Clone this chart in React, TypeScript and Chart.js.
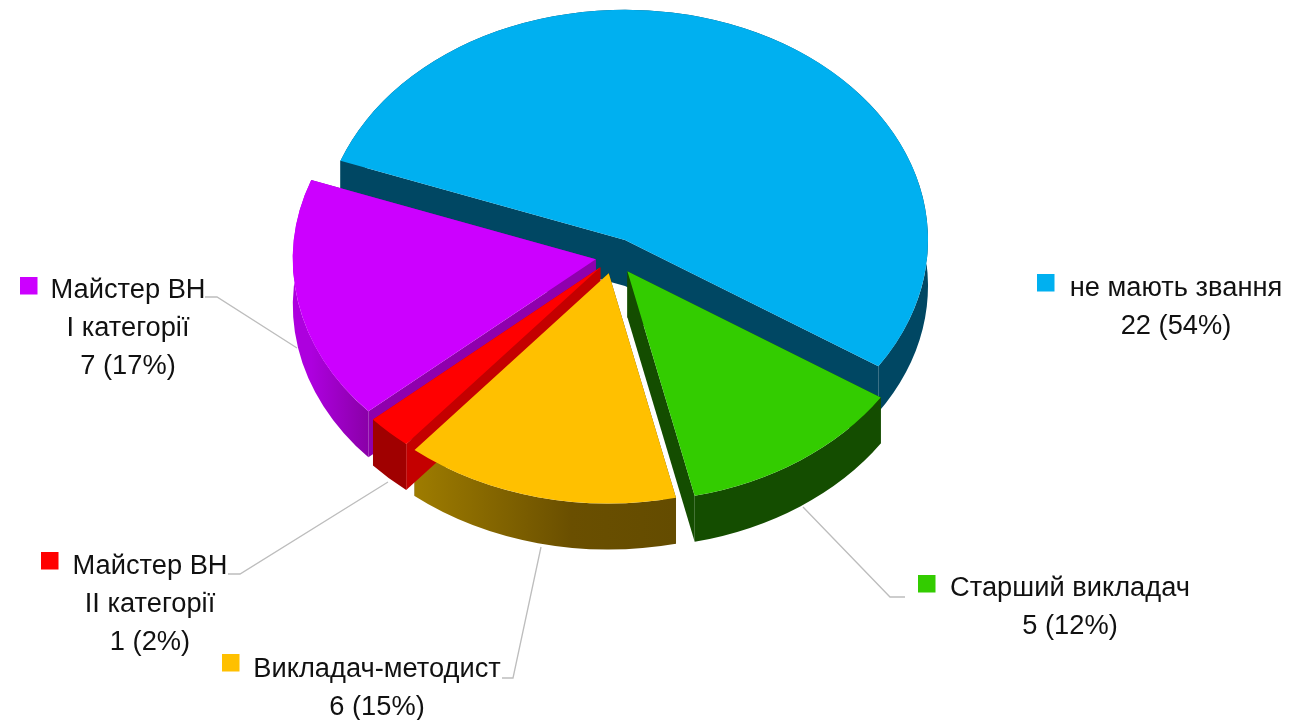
import React, { useEffect, useRef } from "react";
import { Chart, registerables } from "chart.js";

Chart.register(...registerables);

const categories = [
  ["не мають звання"],
  ["Старший викладач"],
  ["Викладач-методист"],
  ["Майстер ВН", "ІІ категорії"],
  ["Майстер ВН", "І категорії"],
];
const values = [22, 5, 6, 1, 7];
const topColors = ["#00b0f0", "#33cc00", "#ffc000", "#ff0000", "#cc00ff"];
const faceColors = ["#004763", "#144d00", "#644c00", "#c40000", "#8f00ad"];
const rimStops: string[][] = [
  ["#004763", "#004763"],
  ["#144d00", "#144d00"],
  ["#9e7c00", "#6a4f00", "#644c00"],
  ["#a00000", "#a00000"],
  ["#ad00de", "#8a00a8"],
];
const explode = [24.5, 23.5, 22.5, 19.5, 18.5];

const CX = 614;
const CY = 256.6;
const RADIUS = 303;
const SQUASH = 0.76;
const DEPTH = 46;
const FONT = '27px "Liberation Sans", Arial, sans-serif';
const TEXT_SX = 1.01;
const LINE_H = 38;

// legend square x, y; text centre x, first baseline
const labelPlaces = [
  { sx: 1037, sy: 274, cx: 1176, by: 296 },
  { sx: 918, sy: 575, cx: 1070, by: 596 },
  { sx: 222, sy: 654, cx: 377, by: 677 },
  { sx: 41, sy: 552, cx: 150, by: 574 },
  { sx: 20, sy: 277, cx: 128, by: 298 },
];
const leaders: (number[][] | null)[] = [
  null,
  [[803, 507], [890, 597], [905, 597]],
  [[541, 547], [513, 678], [502, 678]],
  [[388, 482], [240, 574], [228, 574]],
  [[297, 348], [217, 297], [205, 297]],
];

const piePlugin = {
  id: "pie3d",
  beforeDatasetDraw(chart: any) {
    const ctx: CanvasRenderingContext2D = chart.ctx;
    const arcs = chart.getDatasetMeta(0).data;
    ctx.save();
    ctx.translate(0, arcs[0].y);
    ctx.scale(1, SQUASH);
    ctx.translate(0, -arcs[0].y);
    const d = DEPTH / SQUASH;
    // back to front: walls first, then the library's own arcs on top
    [0, 4, 1, 2, 3].forEach((i) => {
      const a = arcs[i];
      const mid = (a.startAngle + a.endAngle) / 2;
      const ax = a.x + Math.cos(mid) * explode[i];
      const ay = a.y + Math.sin(mid) * explode[i];
      const r = a.outerRadius;
      const edge = (ang: number) => {
        const ex = ax + Math.cos(ang) * r;
        const ey = ay + Math.sin(ang) * r;
        ctx.beginPath();
        ctx.moveTo(ax, ay);
        ctx.lineTo(ex, ey);
        ctx.lineTo(ex, ey + d);
        ctx.lineTo(ax, ay + d);
        ctx.closePath();
        ctx.fillStyle = faceColors[i];
        ctx.fill();
      };
      edge(a.startAngle);
      edge(a.endAngle);
      const stops = rimStops[i];
      const xs = [ax + Math.cos(a.startAngle) * r, ax + Math.cos(a.endAngle) * r];
      const g = ctx.createLinearGradient(Math.min(...xs), 0, Math.max(...xs), 0);
      stops.forEach((c, n) => g.addColorStop(n === 1 && stops.length === 3 ? 0.6 : n / (stops.length - 1), c));
      ctx.beginPath();
      ctx.arc(ax, ay, r, a.startAngle, a.endAngle);
      ctx.arc(ax, ay + d, r, a.endAngle, a.startAngle, true);
      ctx.closePath();
      ctx.fillStyle = g;
      ctx.fill();
    });
    [0, 4, 1, 2, 3].forEach((i) => {
      const a = arcs[i];
      const mid = (a.startAngle + a.endAngle) / 2;
      ctx.save();
      ctx.translate(Math.cos(mid) * explode[i], Math.sin(mid) * explode[i]);
      a.draw(ctx);
      ctx.restore();
    });
    ctx.restore();
    return false;
  },
  afterDatasetsDraw(chart: any) {
    const ctx: CanvasRenderingContext2D = chart.ctx;
    ctx.save();
    ctx.strokeStyle = "#bdbdbd";
    ctx.lineWidth = 1.3;
    leaders.forEach((pts) => {
      if (!pts) return;
      ctx.beginPath();
      pts.forEach((p, n) => (n ? ctx.lineTo(p[0], p[1]) : ctx.moveTo(p[0], p[1])));
      ctx.stroke();
    });
    const total = values.reduce((s, v) => s + v, 0);
    ctx.font = FONT;
    ctx.textAlign = "center";
    ctx.textBaseline = "alphabetic";
    categories.forEach((lines, i) => {
      const p = labelPlaces[i];
      ctx.fillStyle = topColors[i];
      ctx.fillRect(p.sx, p.sy, 17.5, 17.5);
      ctx.fillStyle = "#111111";
      const all = [...lines, `${values[i]} (${Math.round((values[i] / total) * 100)}%)`];
      all.forEach((t, n) => {
        ctx.save();
        ctx.translate(p.cx, p.by + n * LINE_H);
        ctx.scale(TEXT_SX, 1);
        ctx.fillText(t, 0, 0);
        ctx.restore();
      });
    });
    ctx.restore();
  },
};

export default function App() {
  const ref = useRef<HTMLCanvasElement>(null);
  useEffect(() => {
    const chart = new Chart(ref.current as HTMLCanvasElement, {
      type: "pie",
      data: {
        labels: categories.map((c) => c.join(" ")),
        datasets: [
          {
            data: values,
            backgroundColor: topColors,
            borderWidth: 0,
            radius: RADIUS,
            clip: false,
          } as any,
        ],
      },
      options: {
        responsive: false,
        animation: false,
        rotation: 290.1,
        layout: {
          padding: { left: 0, top: 0, right: 1298 - 2 * CX, bottom: 720 - 2 * CY },
        },
        plugins: { legend: { display: false }, tooltip: { enabled: false } },
      },
      plugins: [piePlugin],
    } as any);
    return () => chart.destroy();
  }, []);
  return (
    <canvas
      ref={ref}
      width={1298}
      height={720}
      style={{ position: "fixed", left: 0, top: 0, width: 1298, height: 720, display: "block" }}
    />
  );
}
